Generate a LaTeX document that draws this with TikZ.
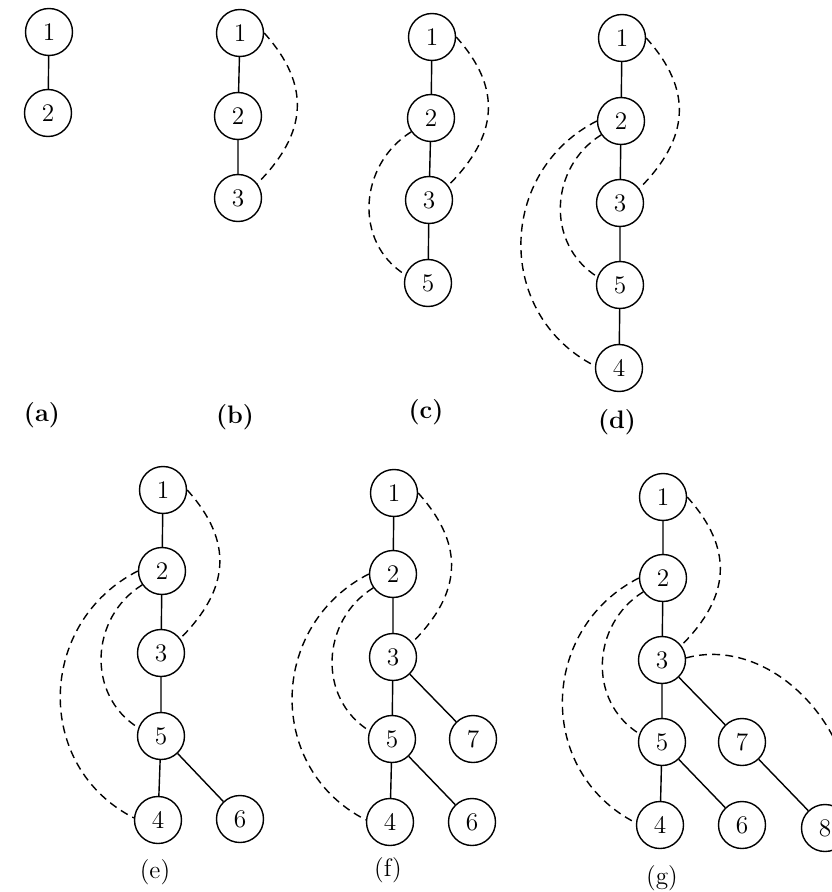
\documentclass[tikz,border=0pt]{standalone}
\usepackage{tikz}
\tikzset{%
  vertex/.style = {draw, circle, line width = 0.8pt, minimum size = 9.4mm,
    inner sep = 0pt, font = \Large}, % tree vertex
  edge/.style   = {line width = 0.8pt}, % tree edge
  back/.style   = {line width = 0.8pt, dash pattern = on 4.5pt off 3pt}, % back edge
  right arc/.style = {out = -48, in = 45, looseness = 1.2},
  inner arc/.style = {out = 212, in = 148, looseness = 1.1},
  outer arc/.style = {out = 207, in = 153, looseness = 1.17},
  tag/.style    = {font = \Large} % panel label
}

\begin{document}
\begin{tikzpicture}[x = 0.2mm, y = 0.2mm]
\useasboundingbox (0,0) rectangle (831,-892);
% panel (a)
\draw
	(49,-32) node [vertex] (a1) {1}
	(48,-113) node [vertex] (a2) {2}
	(42,-415) node [tag] (la) {\textbf{(a)}};
\draw[edge] (a1) -- (a2);
% panel (b)
\draw
	(240,-33) node [vertex] (b1) {1}
	(238,-116) node [vertex] (b2) {2}
	(238,-198) node [vertex] (b3) {3}
	(235,-417) node [tag] (lb) {\textbf{(b)}};
\draw[edge] (b1) -- (b2) -- (b3);
\draw[back] (b1.0) to[right arc] (b3.37);
% panel (c)
\draw
	(432,-37) node [vertex] (c1) {1}
	(431,-118) node [vertex] (c2) {2}
	(429,-200) node [vertex] (c3) {3}
	(428,-283) node [vertex] (c5) {5}
	(426,-412) node [tag] (lc) {\textbf{(c)}};
\draw[edge] (c1) -- (c2) -- (c3) -- (c5);
\draw[back] (c1.0) to[right arc] (c3.37);
\draw[back] (c2.215) to[inner arc] (c5.160);
% panel (d)
\draw
	(622,-38) node [vertex] (d1) {1}
	(621,-121) node [vertex] (d2) {2}
	(620,-203) node [vertex] (d3) {3}
	(620,-285) node [vertex] (d5) {5}
	(619,-368) node [vertex] (d4) {4}
	(617,-422) node [tag] (ld) {\textbf{(d)}};
\draw[edge] (d1) -- (d2) -- (d3) -- (d5) -- (d4);
\draw[back] (d1.0) to[right arc] (d3.37);
\draw[back] (d2.215) to[inner arc] (d5.160);
\draw[back] (d2.180) to[outer arc] (d4.175);
% panel (e)
\draw
	(163,-490) node [vertex] (e1) {1}
	(162,-571) node [vertex] (e2) {2}
	(161,-653) node [vertex] (e3) {3}
	(161,-736) node [vertex] (e5) {5}
	(158,-820) node [vertex] (e4) {4}
	(240,-819) node [vertex] (e6) {6}
	(155,-872) node [tag] (le) {(e)};
\draw[edge] (e1) -- (e2) -- (e3) -- (e5) -- (e4);
\draw[edge] (e5) -- (e6);
\draw[back] (e1.0) to[right arc] (e3.37);
\draw[back] (e2.215) to[inner arc] (e5.160);
\draw[back] (e2.180) to[outer arc] (e4.175);
% panel (f)
\draw
	(394,-493) node [vertex] (f1) {1}
	(393,-574) node [vertex] (f2) {2}
	(393,-657) node [vertex] (f3) {3}
	(392,-739) node [vertex] (f5) {5}
	(473,-739) node [vertex] (f7) {7}
	(390,-822) node [vertex] (f4) {4}
	(472,-822) node [vertex] (f6) {6}
	(388,-870) node [tag] (lf) {(f)};
\draw[edge] (f1) -- (f2) -- (f3) -- (f5) -- (f4);
\draw[edge] (f3) -- (f7);
\draw[edge] (f5) -- (f6);
\draw[back] (f1.0) to[right arc] (f3.37);
\draw[back] (f2.215) to[inner arc] (f5.160);
\draw[back] (f2.180) to[outer arc] (f4.175);
% panel (g)
\draw
	(663,-497) node [vertex] (g1) {1}
	(663,-578) node [vertex] (g2) {2}
	(662,-660) node [vertex] (g3) {3}
	(662,-742) node [vertex] (g5) {5}
	(742,-742) node [vertex] (g7) {7}
	(660,-825) node [vertex] (g4) {4}
	(742,-825) node [vertex] (g6) {6}
	(825,-828) node [vertex] (g8) {8}
	(662,-878) node [tag] (lg) {(g)};
\draw[edge] (g1) -- (g2) -- (g3) -- (g5) -- (g4);
\draw[edge] (g3) -- (g7) -- (g8);
\draw[edge] (g5) -- (g6);
\draw[back] (g1.0) to[right arc] (g3.37);
\draw[back] (g2.215) to[inner arc] (g5.160);
\draw[back] (g2.180) to[outer arc] (g4.175);
\draw[back] (g3.5) to[out = 15, in = 80] (g8.east);
\end{tikzpicture}
\end{document}
